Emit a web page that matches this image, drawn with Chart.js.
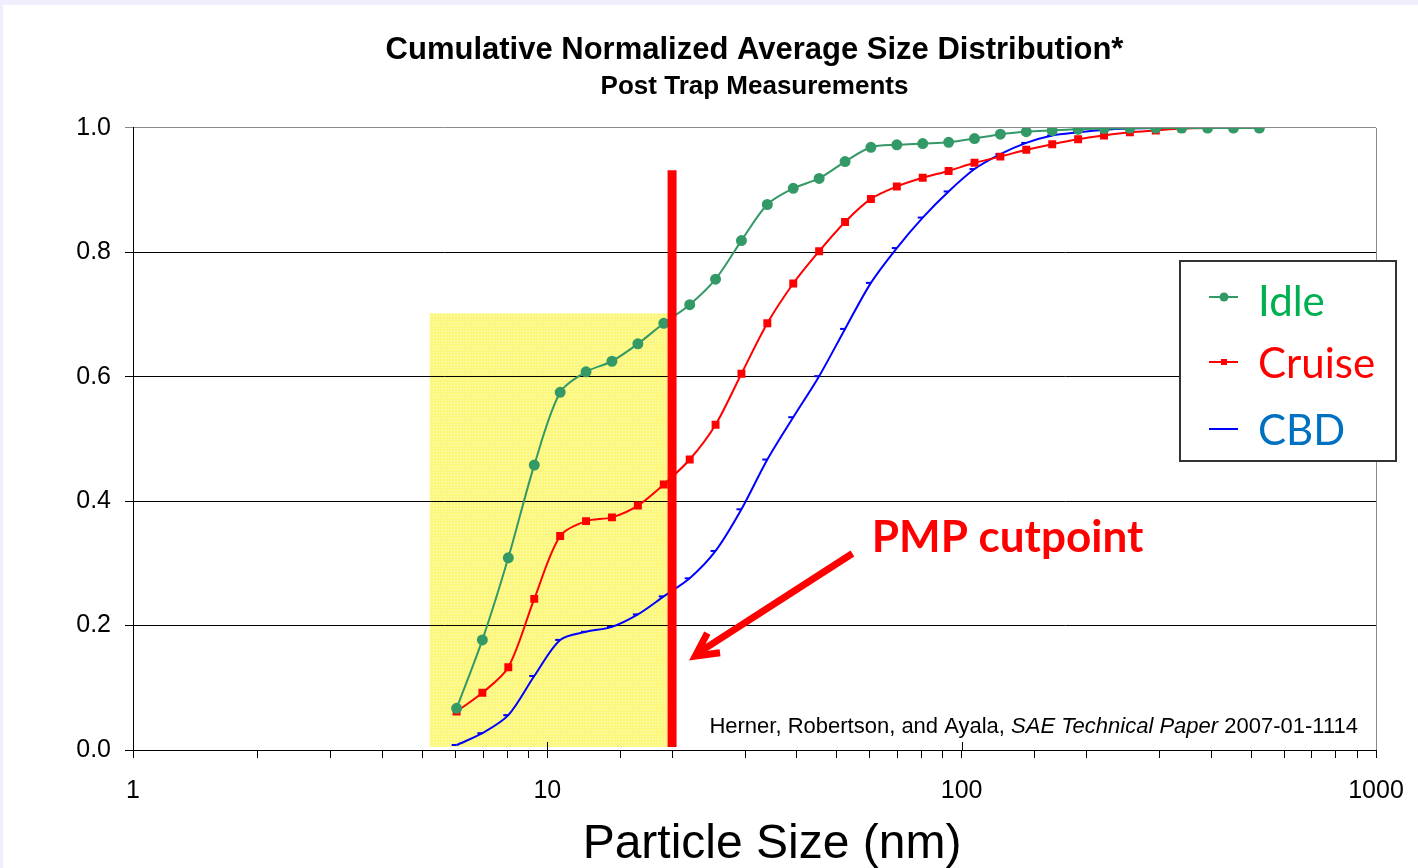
<!DOCTYPE html>
<html>
<head>
<meta charset="utf-8">
<script src="https://cdn.jsdelivr.net/npm/chart.js@4.4.0/dist/chart.umd.min.js"></script>
<style>
html, body { margin: 0; padding: 0; background: #eeeefc; overflow: hidden; }
canvas { display: block; }
</style>
</head>
<body>
<canvas id="mycanvas" width="1418" height="868"></canvas>
<script>
// particle size channels (nm)
var sizes = [6.04, 6.97, 8.05, 9.30, 10.74, 12.40, 14.32, 16.54, 19.10, 22.06,
	25.47, 29.41, 33.96, 39.22, 45.29, 52.31, 60.39, 69.74, 80.54, 93.01,
	107.4, 124.0, 143.2, 165.4, 191.0, 220.6, 254.7, 294.1, 339.6, 392.2, 452.9, 523.0];

var idle = [0.067, 0.177, 0.309, 0.458, 0.575, 0.608, 0.625, 0.653, 0.686, 0.716,
	0.757, 0.819, 0.877, 0.903, 0.919, 0.946, 0.969, 0.973, 0.975, 0.977,
	0.983, 0.990, 0.994, 0.996, 0.998, 0.999, 1.0, 1.0, 1.0, 1.0, 1.0, 1.0];

var cruise = [0.062, 0.092, 0.133, 0.243, 0.344, 0.368, 0.374, 0.393, 0.427, 0.467,
	0.523, 0.605, 0.686, 0.750, 0.802, 0.849, 0.886, 0.906, 0.920, 0.931,
	0.944, 0.954, 0.965, 0.974, 0.982, 0.988, 0.993, 0.996, 0.999, 1.0, 1.0, 1.0];

var cbd = [0.008, 0.027, 0.056, 0.119, 0.177, 0.190, 0.198, 0.218, 0.247, 0.276,
	0.320, 0.387, 0.467, 0.535, 0.601, 0.677, 0.751, 0.807, 0.856, 0.898,
	0.934, 0.958, 0.976, 0.988, 0.993, 0.997, 0.999, 1.0, 1.0, 1.0, 1.0, 1.0];

var seriesNames = ['Idle', 'Cruise', 'CBD'];
var xTickLabels = [1, 10, 100, 1000];
var yTickLabels = [0, 0.2, 0.4, 0.6, 0.8, 1.0];

// annotations (data units)
var cutpoint = [20, 20];
var cutpointY = [0.005, 0.932];
var boxX = [5.2, 19.5];
var boxY = [0.005, 0.702];
var arrowFrom = [54.5, 0.316];
var arrowTo = [22.5, 0.151];
var labelAt = [60.7, 0.318];

var FONT = "'Liberation Sans', Arial, sans-serif";
var CAL = "Lato, 'Open Sans', sans-serif";
var legendColors = ['#00b050', '#ff0000', '#0070c0'];

function pts(vals) {
	var out = [];
	for (var i in vals) out.push({x: sizes[i], y: vals[i]});
	return out;
}

// dotted yellow fill
var tile = document.createElement('canvas');
tile.width = 3; tile.height = 3;
var tc = tile.getContext('2d');
tc.fillStyle = '#fcf77e'; tc.fillRect(0, 0, 3, 3);
tc.fillStyle = '#fffbc4'; tc.fillRect(1, 1, 1, 1);

function marker(c, style, x, y, color) {
	c.fillStyle = color; c.strokeStyle = color;
	if (style === 'circle') {
		c.beginPath(); c.arc(x, y, 4.5, 0, Math.PI * 2); c.fill();
	} else if (style === 'rect') {
		c.fillRect(x - 3, y - 3, 6, 6);
	} else {
		c.lineWidth = 2; c.beginPath(); c.moveTo(x, y); c.lineTo(x - 5, y); c.stroke();
	}
}

var extras = {
	id: 'extras',
	beforeDraw: function(chart) {
		var c = chart.ctx, xs = chart.scales.x, ys = chart.scales.y;
		c.save();
		c.fillStyle = '#eeeefc'; c.fillRect(0, 0, chart.width, chart.height);
		c.fillStyle = '#ffffff'; c.fillRect(3, 5, chart.width - 3, chart.height - 5);
		var l = xs.getPixelForValue(boxX[0]), r = xs.getPixelForValue(boxX[1]);
		var t = ys.getPixelForValue(boxY[1]), b = ys.getPixelForValue(boxY[0]);
		c.fillStyle = c.createPattern(tile, 'repeat');
		c.fillRect(l, t, r - l, b - t);
		c.restore();
	},
	afterDraw: function(chart) {
		var c = chart.ctx, xs = chart.scales.x, ys = chart.scales.y, a = chart.chartArea;
		c.save();
		// plot frame right side
		c.strokeStyle = '#8a8a8a'; c.lineWidth = 1;
		c.beginPath(); c.moveTo(a.right + 0.5, a.top); c.lineTo(a.right + 0.5, a.bottom); c.stroke();
		// major ticks going up
		c.strokeStyle = '#000';
		[10, 100].forEach(function(v) {
			var px = Math.round(xs.getPixelForValue(v)) + 0.5;
			c.beginPath(); c.moveTo(px, a.bottom - 8); c.lineTo(px, a.bottom); c.stroke();
		});

		// arrow
		var x0 = xs.getPixelForValue(arrowFrom[0]), y0 = ys.getPixelForValue(arrowFrom[1]);
		var x1 = xs.getPixelForValue(arrowTo[0]), y1 = ys.getPixelForValue(arrowTo[1]);
		var ang = Math.atan2(y0 - y1, x0 - x1);
		c.strokeStyle = '#ff0000'; c.lineWidth = 7; c.lineCap = 'butt'; c.lineJoin = 'miter';
		c.beginPath(); c.moveTo(x0, y0); c.lineTo(x1 + Math.cos(ang) * 4, y1 + Math.sin(ang) * 4); c.stroke();
		c.beginPath();
		c.moveTo(x1 + Math.cos(ang - 0.45) * 27, y1 + Math.sin(ang - 0.45) * 27);
		c.lineTo(x1 + 2, y1);
		c.lineTo(x1 + Math.cos(ang + 0.45) * 27, y1 + Math.sin(ang + 0.45) * 27);
		c.stroke();

		// PMP cutpoint label
		c.fillStyle = '#ff0000';
		c.font = 'bold 44px ' + CAL;
		c.textBaseline = 'alphabetic'; c.textAlign = 'left';
		c.fillText('PMP cutpoint', xs.getPixelForValue(labelAt[0]), ys.getPixelForValue(labelAt[1]));

		// citation
		var parts = [['Herner, Robertson, and Ayala, ', ''], ['SAE Technical Paper', 'italic '], [' 2007-01-1114', '']];
		var total = 0;
		parts.forEach(function(p) { c.font = p[1] + '22px ' + FONT; total += c.measureText(p[0]).width; });
		var cx = 1358 - total;
		c.fillStyle = '#000';
		parts.forEach(function(p) {
			c.font = p[1] + '22px ' + FONT;
			c.fillText(p[0], cx, 733);
			cx += c.measureText(p[0]).width;
		});

		// x axis title
		c.font = '48px ' + FONT;
		c.textAlign = 'center';
		c.fillText('Particle Size (nm)', 772, 858);

		// legend
		c.fillStyle = '#fff';
		c.fillRect(1180, 261, 216, 200);
		c.strokeStyle = '#333'; c.lineWidth = 2;
		c.strokeRect(1180, 261, 216, 200);
		var rows = [297, 362, 429], textY = [316, 378, 445];
		var styles = ['circle', 'rect', 'dash'];
		c.textAlign = 'left';
		c.font = '42px ' + CAL;
		for (var i = 0; i < 3; i++) {
			var ds = chart.data.datasets[i + 1];
			c.strokeStyle = ds.borderColor; c.lineWidth = 2;
			c.beginPath(); c.moveTo(1209, rows[i]); c.lineTo(1238, rows[i]); c.stroke();
			marker(c, styles[i], 1224, rows[i], ds.borderColor);
			c.fillStyle = legendColors[i];
			c.fillText(seriesNames[i], 1258, textY[i]);
		}
		c.restore();
	}
};

var ctx = document.getElementById('mycanvas');

var chart = new Chart(ctx, {
	type: 'line',
	data: {
		datasets: [
			{
				label: 'cutpoint',
				data: [{x: cutpoint[0], y: cutpointY[0]}, {x: cutpoint[1], y: cutpointY[1]}],
				borderColor: '#ff0000',
				borderWidth: 9,
				pointRadius: 0,
				tension: 0,
				order: 0
			},
			{
				label: seriesNames[0],
				data: pts(idle),
				borderColor: '#339966',
				backgroundColor: '#339966',
				borderWidth: 2,
				pointStyle: 'circle',
				pointRadius: 4.5,
				tension: 0.3,
				order: 1
			},
			{
				label: seriesNames[1],
				data: pts(cruise),
				borderColor: '#ff0000',
				backgroundColor: '#ff0000',
				borderWidth: 2,
				pointStyle: 'rect',
				pointRadius: 4.2,
				tension: 0.3,
				order: 2
			},
			{
				label: seriesNames[2],
				data: pts(cbd),
				borderColor: '#0000ff',
				backgroundColor: '#0000ff',
				borderWidth: 2,
				pointStyle: 'dash',
				pointRotation: 180,
				pointRadius: 5,
				pointBorderWidth: 2,
				tension: 0.3,
				order: 3
			}
		]
	},
	options: {
		responsive: false,
		animation: false,
		devicePixelRatio: 1,
		layout: { padding: { right: 42, left: 0, top: 0, bottom: 0 } },
		plugins: {
			legend: { display: false },
			tooltip: { enabled: false },
			title: {
				display: true,
				text: 'Cumulative Normalized Average Size Distribution*',
				color: '#000',
				fullSize: false,
				font: { family: FONT, size: 31, weight: 'bold' },
				padding: { top: 32, bottom: 0 }
			},
			subtitle: {
				display: true,
				text: 'Post Trap Measurements',
				color: '#000',
				fullSize: false,
				font: { family: FONT, size: 26, weight: 'bold' },
				padding: { top: 2.2, bottom: 25.4 }
			}
		},
		scales: {
			x: {
				type: 'logarithmic',
				min: 1,
				max: 1000,
				afterFit: function(s) { s.height = 118; s.paddingLeft = 0; s.paddingRight = 0; },
				border: { color: '#000', width: 1 },
				grid: { drawOnChartArea: false, drawTicks: true, tickLength: 8, color: '#000' },
				ticks: {
					autoSkip: false,
					maxRotation: 0,
					padding: 18,
					color: '#000',
					font: { family: FONT, size: 25 },
					callback: function(v) { return xTickLabels.indexOf(v) >= 0 ? String(v) : ''; }
				}
			},
			y: {
				min: 0,
				max: 1,
				afterFit: function(s) { s.width = 133; },
				afterBuildTicks: function(s) { s.ticks = yTickLabels.map(function(v) { return {value: v}; }); },
				border: { color: '#000', width: 1 },
				grid: {
					tickLength: 8,
					color: function(c) { return c.tick && c.tick.value === 1 ? '#8a8a8a' : '#000'; }
				},
				ticks: {
					padding: 14,
					color: '#000',
					font: { family: FONT, size: 25 },
					callback: function(v) { return v.toFixed(1); }
				}
			}
		}
	},
	plugins: [extras]
});
</script>
</body>
</html>
